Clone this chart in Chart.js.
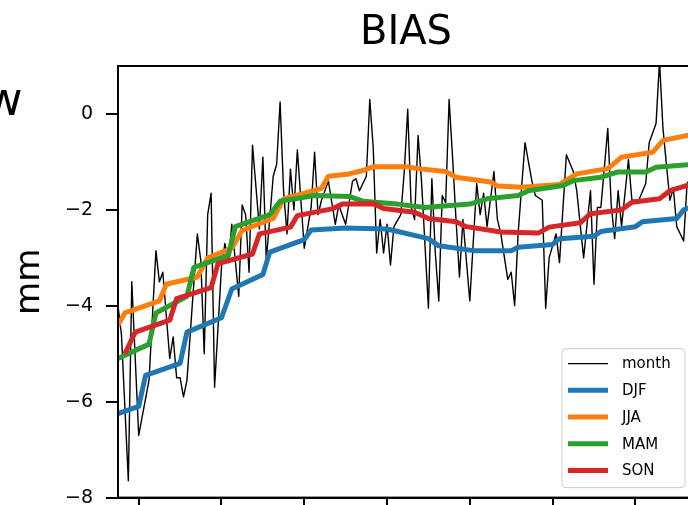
<!DOCTYPE html>
<html>
<head>
<meta charset="utf-8">
<script src="https://cdn.jsdelivr.net/npm/chart.js@4.4.1/dist/chart.umd.min.js"></script>
<style>
  html, body { margin: 0; padding: 0; background: #fff; overflow: hidden; width: 688px; height: 505px; }
  #wrap { position: absolute; left: 0; top: 0; width: 700px; height: 522px; }
</style>
</head>
<body>
<div id="wrap"><canvas id="biasChart" width="700" height="522"></canvas></div>
<script>
// monthly bias, [month index, mm]
const monthly = [
  [0,-4.0],[1,-4.6],[3,-7.65],[4,-3.5],[6,-6.7],[9,-5.55],[11,-2.85],[12,-3.5],[13,-3.3],[15,-5.1],
  [16,-4.65],[17,-5.5],[18,-5.5],[19,-5.9],[20,-5.55],[23,-2.5],[24,-3.05],[25,-5.0],[26,-2.1],[27,-1.65],
  [28,-5.7],[30,-3.2],[31,-2.7],[32,-3.1],[33,-2.3],[35,-3.8],[36,-1.9],[37,-2.1],[38,-3.3],[39,-0.65],
  [41,-2.4],[42,-0.9],[43,-3.05],[45,-1.3],[46,-1.05],[47,0.25],[48,-1.6],[49,-2.5],[50,-1.15],[51,-2.0],
  [52,-0.75],[54,-2.8],[56,-1.95],[57,-0.8],[58,-2.1],[59,-1.8],[61,-1.4],[63,-2.3],[64,-1.9],[66,-2.3],
  [68,-1.4],[69,-1.35],[70,-1.6],[72,-1.3],[73,0.3],[74,-0.7],[75,-2.9],[76,-2.2],[77,-2.9],[78,-2.3],
  [79,-3.15],[80,-2.35],[82,-2.1],[83,-1.2],[84,0.1],[85,-1.95],[86,-2.2],[87,-0.45],[88,-1.4],[90,-4.05],
  [91,-1.35],[92,-2.9],[93,-3.9],[94,-1.7],[95,-1.85],[96,0.3],[97,-0.9],[98,-2.2],[99,-3.4],[100,-2.2],
  [102,-3.9],[104,-1.45],[105,-2.1],[106,-1.65],[107,-2.35],[109,-1.2],[110,-2.2],[111,-2.5],[113,-3.45],[114,-3.3],
  [115,-4.0],[116,-2.5],[118,-0.6],[120,-1.4],[121,-1.7],[123,-1.8],[124,-4.05],[125,-3.0],[127,-2.5],[128,-3.1],
  [130,-0.85],[132,-1.2],[133,-1.6],[135,-3.0],[137,-1.6],[138,-3.55],[139,-1.95],[140,-1.95],[142,-0.3],[143,-1.9],
  [144,-2.6],[145,-1.6],[146,-2.35],[148,-0.95],[149,-1.8],[151,-1.8],[153,-1.45],[154,-0.6],[156,-0.2],[157,1.1],
  [158,-0.3],[160,-1.8],[161,-1.55],[162,-2.35],[164,-2.65],[165,-1.45],[167,-1.2]
];

// seasonal means, [month index, mm] at the corners of each line
const djf = [
  [0,-6.25],[6,-6.1],[8,-5.45],[18,-5.2],[20,-4.55],[30,-4.25],[33,-3.65],[42,-3.35],[44,-2.88],[54,-2.62],
  [56,-2.42],[66,-2.38],[78,-2.4],[90,-2.6],[93,-2.75],[103,-2.85],[114,-2.85],[116,-2.78],[126,-2.72],[128,-2.6],
  [138,-2.55],[140,-2.45],[150,-2.35],[152,-2.25],[162,-2.18],[164,-2.0],[167,-1.92]
];
const jja = [
  [0,-4.4],[2,-4.15],[12,-3.9],[14,-3.55],[23,-3.4],[26,-3.0],[33,-2.8],[36,-2.43],[45,-2.18],[48,-1.77],
  [59,-1.55],[61,-1.3],[67,-1.25],[71,-1.18],[74,-1.1],[84,-1.1],[87,-1.14],[95,-1.2],[98,-1.32],[108,-1.42],
  [110,-1.5],[117,-1.53],[128,-1.47],[133,-1.25],[142,-1.14],[146,-0.9],[155,-0.8],[158,-0.55],[167,-0.42]
];
const mam = [
  [0,-5.1],[9,-4.8],[11,-4.15],[20,-3.8],[22,-3.2],[32,-2.95],[34,-2.35],[44,-2.1],[47,-1.82],[57,-1.7],
  [67,-1.72],[71,-1.82],[81,-1.88],[89,-1.95],[102,-1.88],[107,-1.77],[116,-1.7],[119,-1.6],[129,-1.49],[132,-1.39],
  [140,-1.32],[145,-1.21],[153,-1.21],[156,-1.11],[167,-1.05]
];
const son = [
  [2,-5.0],[5,-4.55],[15,-4.3],[17,-3.85],[27,-3.62],[29,-3.12],[39,-2.92],[41,-2.5],[50,-2.36],[52,-2.12],
  [62,-1.98],[65,-1.88],[74,-1.87],[77,-1.97],[86,-2.05],[90,-2.18],[98,-2.25],[101,-2.35],[111,-2.46],[122,-2.48],
  [125,-2.36],[134,-2.27],[137,-2.08],[146,-2.0],[149,-1.84],[157,-1.77],[160,-1.6],[167,-1.45]
];

const xTicks = [6, 30, 54, 78, 102, 126, 150];
const yTicks = [-8, -6, -4, -2, 0];

const FONT = "'DejaVu Sans', sans-serif";
const toXY = arr => arr.map(p => ({ x: p[0], y: p[1] }));

function series(label, arr, color, width, order) {
  return {
    label: label,
    data: toXY(arr),
    borderColor: color,
    backgroundColor: color,
    borderWidth: width,
    pointRadius: 0,
    tension: 0,
    borderJoinStyle: 'round',
    order: order
  };
}

// box round the axes plus the stray letter cut from the panel on the left
const framePlugin = {
  id: 'frame',
  afterDatasetsDraw(chart) {
    const { ctx, chartArea: a } = chart;
    ctx.save();
    ctx.strokeStyle = '#000';
    ctx.lineWidth = 2;
    ctx.strokeRect(a.left, a.top, a.right - a.left, a.bottom - a.top);
    ctx.fillStyle = '#000';
    ctx.font = '46px ' + FONT;
    ctx.textBaseline = 'alphabetic';
    ctx.fillText('w', -15, 115);
    ctx.restore();
  }
};

// matplotlib-like legend in the lower right corner
const legendPlugin = {
  id: 'boxLegend',
  afterDraw(chart) {
    const { ctx, chartArea: a } = chart;
    const sets = chart.data.datasets;
    const w = 123, rowH = 26.7, h = 139;
    const x0 = a.right - 9 - w, y0 = a.bottom - 10 - h;
    ctx.save();
    ctx.beginPath();
    ctx.roundRect(x0, y0, w, h, 4);
    ctx.fillStyle = 'rgba(255,255,255,0.8)';
    ctx.fill();
    ctx.strokeStyle = '#cccccc';
    ctx.lineWidth = 1;
    ctx.stroke();
    ctx.font = '15px ' + FONT;
    ctx.textBaseline = 'middle';
    sets.forEach((ds, i) => {
      const y = y0 + 15 + i * rowH;
      ctx.beginPath();
      ctx.moveTo(x0 + 6, y);
      ctx.lineTo(x0 + 46, y);
      ctx.strokeStyle = ds.borderColor;
      ctx.lineWidth = ds.borderWidth;
      ctx.stroke();
      ctx.fillStyle = '#000';
      ctx.fillText(ds.label, x0 + 60, y + 1);
    });
    ctx.restore();
  }
};

const ctx = document.getElementById('biasChart').getContext('2d');
const biasChart = new Chart(ctx, {
  type: 'line',
  data: {
    datasets: [
      series('month', monthly, '#000000', 1.4, 5),
      series('DJF', djf, '#1f77b4', 5, 4),
      series('JJA', jja, '#ff7f0e', 5, 3),
      series('MAM', mam, '#2ca02c', 5, 2),
      series('SON', son, '#d62728', 5, 1)
    ]
  },
  options: {
    responsive: false,
    animation: false,
    layout: { padding: { left: 5, right: 6, top: 0, bottom: 0 } },
    plugins: {
      legend: { display: false },
      tooltip: { enabled: false },
      title: {
        display: true,
        text: 'BIAS',
        fullSize: false,
        color: '#000',
        font: { family: FONT, size: 40, weight: 'normal' },
        padding: { top: 10, bottom: 8 }
      }
    },
    scales: {
      x: {
        type: 'linear',
        min: 0,
        max: 167,
        afterBuildTicks: s => { s.ticks = xTicks.map(v => ({ value: v })); },
        ticks: { display: false },
        grid: { drawOnChartArea: false, tickLength: 12, color: '#000', lineWidth: 2 },
        border: { color: '#000', width: 2 }
      },
      y: {
        min: -8,
        max: 1,
        afterBuildTicks: s => { s.ticks = yTicks.map(v => ({ value: v })); },
        afterFit: s => { s.width = 113; },
        ticks: {
          color: '#000',
          padding: 13,
          font: { family: FONT, size: 19 },
          callback: v => String(v).replace('-', '\u2212')
        },
        grid: { drawOnChartArea: false, tickLength: 12, color: '#000', lineWidth: 2 },
        border: { color: '#000', width: 2 },
        title: {
          display: true,
          text: 'mm',
          color: '#000',
          font: { family: FONT, size: 34 },
          padding: { top: 5, bottom: 0 }
        }
      }
    }
  },
  plugins: [framePlugin, legendPlugin]
});
</script>
</body>
</html>
